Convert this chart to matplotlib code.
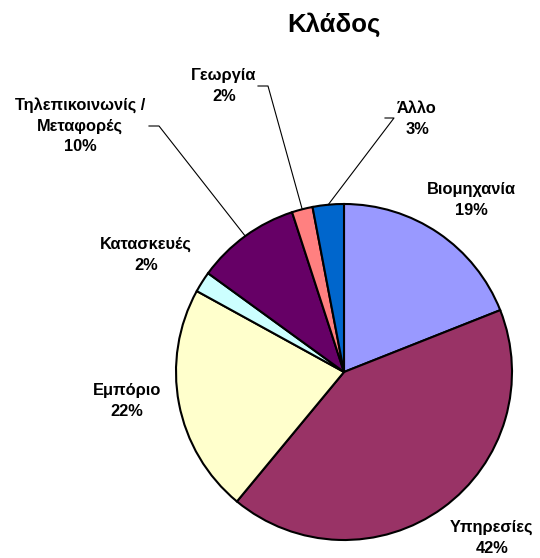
import numpy as np
import matplotlib.pyplot as plt

plt.rcParams['font.family'] = ['Liberation Sans', 'DejaVu Sans']

# data
labels = ['Βιομηχανία', 'Υπηρεσίες', 'Εμπόριο', 'Κατασκευές',
          'Τηλεπικοινωνίς /\nΜεταφορές', 'Γεωργία', 'Άλλο']
values = [19, 42, 22, 2, 10, 2, 3]
colors = ['#9999FF', '#993366', '#FFFFCC', '#CCFFFF', '#660066', '#FF8080', '#0066CC']
title = 'Κλάδος'

# layout (pixel coords, y from top)
W, H = 540, 558
cx, cy, r = 344, 372, 168
text_pos = [(471, 200), (492, 538), (127, 401), (146, 255),
            (80, 126), (224, 86), (417, 119)]
# elbow points for leader lines (None = no leader)
elbows = [None, None, None, None,
          ((149, 126), (159, 126)),
          ((258, 86), (268, 86)),
          ((385, 118), (394, 118))]

fig = plt.figure(figsize=(W / 100, H / 100), dpi=100)
ax = fig.add_axes([0, 0, 1, 1])

wedges, _ = ax.pie(values, colors=colors, startangle=90, counterclock=False,
                   center=(cx, H - cy), radius=r, frame=True,
                   wedgeprops=dict(edgecolor='black', linewidth=1.5))
ax.set_xlim(0, W)
ax.set_ylim(0, H)
ax.set_aspect('equal')
ax.axis('off')

total = sum(values)
for i, (lab, v) in enumerate(zip(labels, values)):
    tx, ty = text_pos[i]
    ax.text(tx, H - ty, f'{lab}\n{round(100 * v / total)}%', ha='center', va='center',
            fontsize=11.8, fontweight='bold', linespacing=1.45)
    if elbows[i] is not None:
        w = wedges[i]
        ang = np.deg2rad((w.theta1 + w.theta2) / 2)
        ex = cx + r * np.cos(ang)
        ey = (H - cy) + r * np.sin(ang)
        (x0, y0), (x1, y1) = elbows[i]
        ax.plot([x0, x1, ex], [H - y0, H - y1, ey], color='black', linewidth=0.8)

ax.text(334, H - 25, title, ha='center', va='center', fontsize=18.5, fontweight='bold')

fig.savefig('out.png', dpi=100)
